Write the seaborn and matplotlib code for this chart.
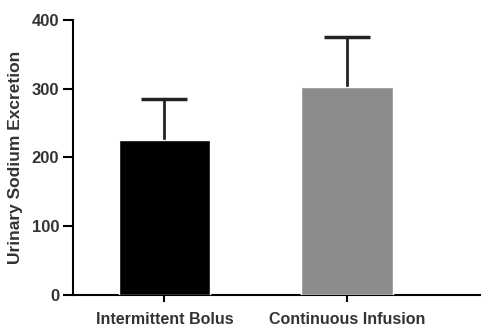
import matplotlib
matplotlib.use('Agg')
import matplotlib.pyplot as plt
import seaborn as sns
import pandas as pd

groups = ['Intermittent Bolus', 'Continuous Infusion']
means = [226, 302]
err_up = [59, 73]
bar_colors = ['#000000', '#8c8c8c']

df = pd.DataFrame({'Grupo': groups, 'Valor': means})
tops = [m + e for m, e in zip(means, err_up)]

sns.set_style('white')
plt.rcParams['font.family'] = ['Liberation Sans', 'DejaVu Sans']
plt.rcParams['font.weight'] = 'bold'

fig, ax = plt.subplots(figsize=(4.88, 3.27), dpi=100)
fig.subplots_adjust(left=0.15, right=0.984, top=0.939, bottom=0.098)

sns.barplot(data=df, x='Grupo', y='Valor', hue='Grupo', palette=bar_colors,
            width=0.5, legend=False, ax=ax, errorbar=None, zorder=3)
# barra de erro so para cima
ax.errorbar(range(len(groups)), means, yerr=[[0, 0], err_up], fmt='none',
            ecolor='#222222', elinewidth=2, capsize=0, zorder=2)
ax.plot(range(len(groups)), tops, linestyle='none', marker='_',
        markersize=33, markeredgewidth=2.5, color='#222222', zorder=2)

ax.set_xlim(-0.5, 1.73)
ax.set_ylim(0, 400)
ax.set_yticks([0, 100, 200, 300, 400])
ax.set_xlabel('')
ax.set_ylabel('Urinary Sodium Excretion', fontsize=12.5, fontweight='bold', color='#333333', labelpad=6)
for s in ['top', 'right']:
    ax.spines[s].set_visible(False)
for s in ['left', 'bottom']:
    ax.spines[s].set_color('black')
    ax.spines[s].set_linewidth(1.5)
ax.tick_params(axis='y', direction='out', length=7, width=1.5, colors='black',
               labelcolor='#333333', labelsize=12, left=True, pad=3)
ax.tick_params(axis='x', direction='out', length=5, width=1.5, colors='black',
               labelcolor='#333333', labelsize=11.5, bottom=True, pad=7)
for lbl in ax.get_xticklabels() + ax.get_yticklabels():
    lbl.set_fontweight('bold')

plt.savefig('out.png', dpi=100)
